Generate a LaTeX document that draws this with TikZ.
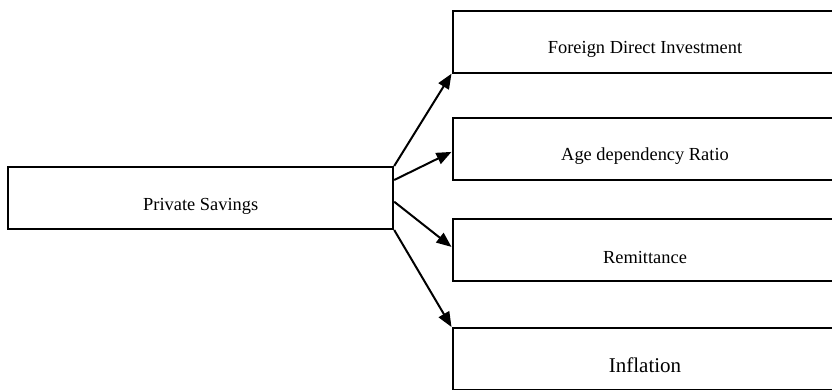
\documentclass[tikz,border=0pt]{standalone}
\usepackage{fontspec}
\setmainfont{Liberation Serif}
\usetikzlibrary{arrows.meta,calc}
\begin{document}
\begin{tikzpicture}[x=1pt,y=-1pt,
  box/.style={draw=black,line width=2pt,minimum width=385pt,minimum height=62pt,inner sep=0pt,fill=white},
  lbl/.style={anchor=base,inner sep=0pt,font=\fontsize{18.4}{22}\selectfont},
  biglbl/.style={anchor=base,inner sep=0pt,font=\fontsize{21}{25}\selectfont},
  conn/.style={line width=2pt,-{Triangle[length=15pt,width=12pt]}}]
\useasboundingbox (0,0) rectangle (832,389);
\clip (0,0) rectangle (832,389);
\node[box] (ps) at (200.7,198) {};
\node[box] (fdi) at (645,41.7) {};
\node[box] (adr) at (645,149.2) {};
\node[box] (rem) at (645,250.2) {};
\node[box] (inf) at (645,359) {};
\node[lbl] (pst) at (200.7,210.5) {Private Savings};
\node[lbl] (fdit) at (645,53.5) {Foreign Direct Investment};
\node[lbl] (adrt) at (645,160.5) {Age dependency Ratio};
\node[lbl] (remt) at (645,263) {Remittance};
\node[biglbl] (inft) at (645,372.5) {Inflation};
\draw[conn] (ps.north east) -- (fdi.south west);
\draw[conn] ($(ps.east)+(0,-18)$) -- ($(adr.west)+(0,2.7)$);
\draw[conn] ($(ps.east)+(0,3.7)$) -- ($(rem.west)+(0,-3.3)$);
\draw[conn] (ps.south east) -- (inf.north west);
\end{tikzpicture}
\end{document}
